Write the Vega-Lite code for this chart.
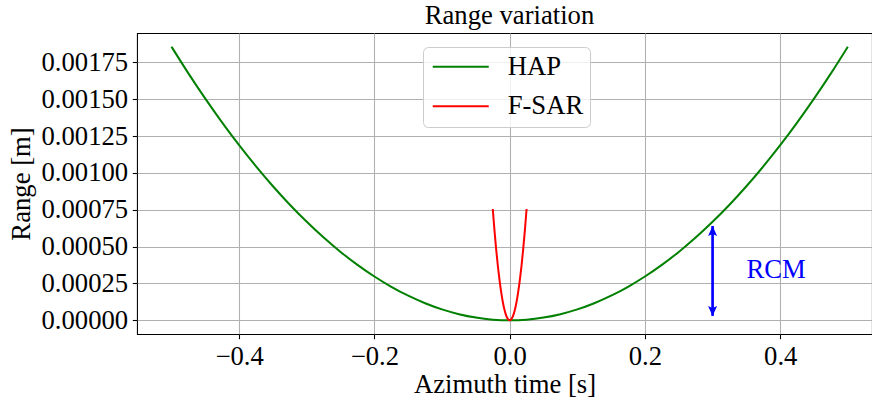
{
  "$schema": "https://vega.github.io/schema/vega-lite/v6.json",
  "autosize": {"type": "none"},
  "padding": {"left": 137, "top": 33, "right": 0, "bottom": 69},
  "width": 735,
  "height": 301,
  "background": "white",
  "title": {"text": "Range variation", "anchor": "middle", "dx": 5, "offset": -17.5, "baseline": "alphabetic", "font": "Liberation Serif", "fontSize": 26.67, "fontWeight": "normal", "color": "black"},
  "datasets": {
    "curves": [
      {"t": -0.5, "r": 0.001856, "s": "HAP"},
      {"t": -0.475, "r": 0.001675, "s": "HAP"},
      {"t": -0.45, "r": 0.0015034, "s": "HAP"},
      {"t": -0.425, "r": 0.001341, "s": "HAP"},
      {"t": -0.4, "r": 0.0011878, "s": "HAP"},
      {"t": -0.375, "r": 0.001044, "s": "HAP"},
      {"t": -0.35, "r": 0.0009094, "s": "HAP"},
      {"t": -0.325, "r": 0.0007842, "s": "HAP"},
      {"t": -0.3, "r": 0.0006682, "s": "HAP"},
      {"t": -0.275, "r": 0.0005614, "s": "HAP"},
      {"t": -0.25, "r": 0.000464, "s": "HAP"},
      {"t": -0.225, "r": 0.0003758, "s": "HAP"},
      {"t": -0.2, "r": 0.000297, "s": "HAP"},
      {"t": -0.175, "r": 0.0002274, "s": "HAP"},
      {"t": -0.15, "r": 0.000167, "s": "HAP"},
      {"t": -0.125, "r": 0.000116, "s": "HAP"},
      {"t": -0.1, "r": 0.0000742, "s": "HAP"},
      {"t": -0.075, "r": 0.0000418, "s": "HAP"},
      {"t": -0.05, "r": 0.0000186, "s": "HAP"},
      {"t": -0.025, "r": 0.0000046, "s": "HAP"},
      {"t": 0, "r": 0, "s": "HAP"},
      {"t": 0.025, "r": 0.0000046, "s": "HAP"},
      {"t": 0.05, "r": 0.0000186, "s": "HAP"},
      {"t": 0.075, "r": 0.0000418, "s": "HAP"},
      {"t": 0.1, "r": 0.0000742, "s": "HAP"},
      {"t": 0.125, "r": 0.000116, "s": "HAP"},
      {"t": 0.15, "r": 0.000167, "s": "HAP"},
      {"t": 0.175, "r": 0.0002274, "s": "HAP"},
      {"t": 0.2, "r": 0.000297, "s": "HAP"},
      {"t": 0.225, "r": 0.0003758, "s": "HAP"},
      {"t": 0.25, "r": 0.000464, "s": "HAP"},
      {"t": 0.275, "r": 0.0005614, "s": "HAP"},
      {"t": 0.3, "r": 0.0006682, "s": "HAP"},
      {"t": 0.325, "r": 0.0007842, "s": "HAP"},
      {"t": 0.35, "r": 0.0009094, "s": "HAP"},
      {"t": 0.375, "r": 0.001044, "s": "HAP"},
      {"t": 0.4, "r": 0.0011878, "s": "HAP"},
      {"t": 0.425, "r": 0.001341, "s": "HAP"},
      {"t": 0.45, "r": 0.0015034, "s": "HAP"},
      {"t": 0.475, "r": 0.001675, "s": "HAP"},
      {"t": 0.5, "r": 0.001856, "s": "HAP"},
      {"t": -0.025, "r": 0.000755, "s": "F-SAR"},
      {"t": -0.0225, "r": 0.000612, "s": "F-SAR"},
      {"t": -0.02, "r": 0.000483, "s": "F-SAR"},
      {"t": -0.0175, "r": 0.00037, "s": "F-SAR"},
      {"t": -0.015, "r": 0.000272, "s": "F-SAR"},
      {"t": -0.0125, "r": 0.000189, "s": "F-SAR"},
      {"t": -0.01, "r": 0.000121, "s": "F-SAR"},
      {"t": -0.0075, "r": 0.000068, "s": "F-SAR"},
      {"t": -0.005, "r": 0.0000302, "s": "F-SAR"},
      {"t": -0.0025, "r": 0.0000076, "s": "F-SAR"},
      {"t": 0, "r": 0, "s": "F-SAR"},
      {"t": 0.0025, "r": 0.0000076, "s": "F-SAR"},
      {"t": 0.005, "r": 0.0000302, "s": "F-SAR"},
      {"t": 0.0075, "r": 0.000068, "s": "F-SAR"},
      {"t": 0.01, "r": 0.000121, "s": "F-SAR"},
      {"t": 0.0125, "r": 0.000189, "s": "F-SAR"},
      {"t": 0.015, "r": 0.000272, "s": "F-SAR"},
      {"t": 0.0175, "r": 0.00037, "s": "F-SAR"},
      {"t": 0.02, "r": 0.000483, "s": "F-SAR"},
      {"t": 0.0225, "r": 0.000612, "s": "F-SAR"},
      {"t": 0.025, "r": 0.000755, "s": "F-SAR"}
    ],
    "arrow": [
      {"t": 0.3, "r0": 0.00003, "r1": 0.00064}
    ],
    "heads": [
      {"t": 0.3, "r": 0.00064, "dir": "up"},
      {"t": 0.3, "r": 0.00003, "dir": "down"}
    ],
    "note": [
      {"t": 0.35, "r": 0.00029, "label": "RCM"}
    ]
  },
  "config": {
    "font": "Liberation Serif",
    "view": {"stroke": "black", "strokeWidth": 1.07},
    "axis": {
      "labelFont": "Liberation Serif", "labelFontSize": 26.67, "labelColor": "black",
      "titleFont": "Liberation Serif", "titleFontSize": 26.67, "titleFontWeight": "normal", "titleColor": "black",
      "domain": false, "ticks": true, "tickColor": "black", "tickWidth": 1.07, "tickSize": 4.67,
      "labelPadding": 4.67, "grid": true, "gridColor": "#b0b0b0", "gridWidth": 1.07
    },
    "legend": {
      "orient": "none", "legendX": 286, "legendY": 14,
      "fillColor": "rgba(255,255,255,0.8)", "strokeColor": "#cccccc", "cornerRadius": 5, "strokeWidth": 1,
      "padding": 6.4,
      "symbolType": "M-2.8,0L2.8,0", "symbolSize": 400, "symbolStrokeWidth": 2, "symbolOffset": 18,
      "labelFont": "Liberation Serif", "labelFontSize": 26.67, "labelColor": "black", "labelOffset": 33.6,
      "rowPadding": 11.6
    }
  },
  "layer": [
    {
      "data": {"name": "curves"},
      "mark": {"type": "line", "strokeWidth": 2, "interpolate": "monotone", "clip": true},
      "encoding": {
        "x": {"field": "t", "type": "quantitative", "scale": {"domain": [-0.551, 0.5357], "nice": false, "zero": false},
              "axis": {"values": [-0.4, -0.2, 0, 0.2, 0.4], "format": ".1f", "title": "Azimuth time [s]", "titlePadding": 1}},
        "y": {"field": "r", "type": "quantitative", "scale": {"domain": [-0.0000928, 0.0019488], "nice": false, "zero": false},
              "axis": {"values": [0, 0.00025, 0.0005, 0.00075, 0.001, 0.00125, 0.0015, 0.00175], "format": ".5f", "title": "Range [m]", "titlePadding": 6}},
        "color": {"field": "s", "type": "nominal", "sort": ["HAP", "F-SAR"],
                  "scale": {"domain": ["HAP", "F-SAR"], "range": ["#008000", "#ff0000"]},
                  "legend": {"title": null}}
      }
    },
    {
      "data": {"name": "arrow"},
      "mark": {"type": "rule", "color": "#0000ff", "strokeWidth": 2.67},
      "encoding": {
        "x": {"field": "t", "type": "quantitative"},
        "y": {"field": "r0", "type": "quantitative"},
        "y2": {"field": "r1"}
      }
    },
    {
      "data": {"name": "heads"},
      "mark": {"type": "point", "filled": true, "color": "#0000ff", "opacity": 1, "size": 100},
      "encoding": {
        "x": {"field": "t", "type": "quantitative"},
        "y": {"field": "r", "type": "quantitative"},
        "shape": {"field": "dir", "type": "nominal",
                  "scale": {"domain": ["up", "down"], "range": ["M0,0L-0.9,2L0,1.6L0.9,2Z", "M0,0L-0.9,-2L0,-1.6L0.9,-2Z"]},
                  "legend": null}
      }
    },
    {
      "data": {"name": "note"},
      "mark": {"type": "text", "color": "#0000ff", "font": "Liberation Serif", "fontSize": 26.67, "align": "left", "baseline": "alphabetic"},
      "encoding": {
        "x": {"field": "t", "type": "quantitative"},
        "y": {"field": "r", "type": "quantitative"},
        "text": {"field": "label"}
      }
    }
  ]
}
